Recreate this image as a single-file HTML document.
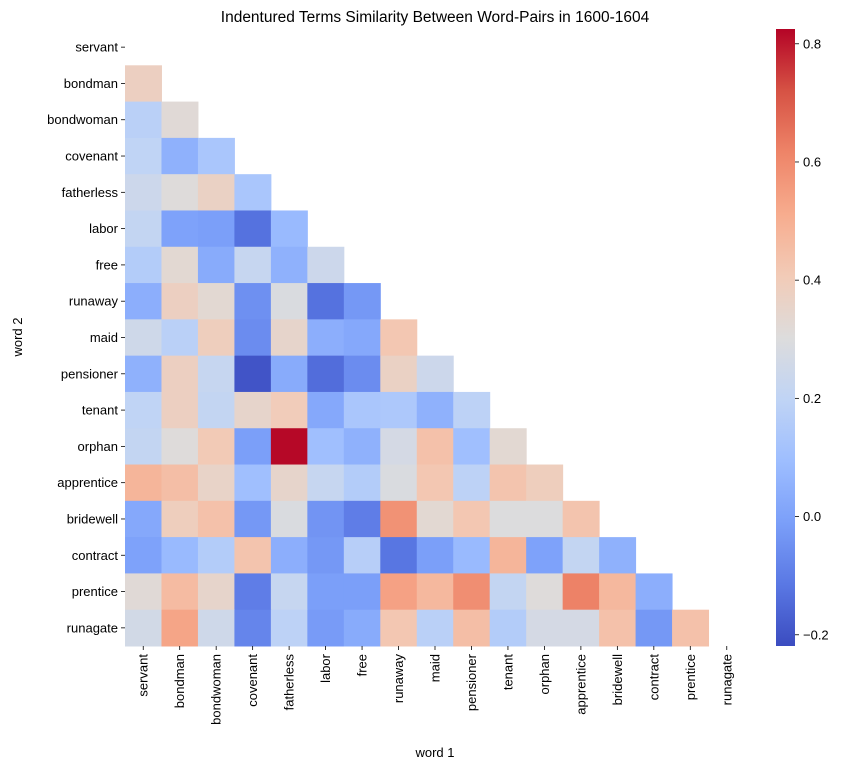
<!DOCTYPE html>
<html><head><meta charset="utf-8"><style>
body{margin:0;background:#fff;}
svg text{font-family:"Liberation Sans",sans-serif;fill:#000;}
</style></head><body>
<svg id="c" width="868" height="771" xmlns="http://www.w3.org/2000/svg"></svg>
<script>
const words=["servant","bondman","bondwoman","covenant","fatherless","labor","free","runaway","maid","pensioner","tenant","orphan","apprentice","bridewell","contract","prentice","runagate"];
const row1=[0.38];
const row2=[0.18,0.32];
const row3=[0.2,0.05,0.13];
const row4=[0.24,0.31,0.37,0.13];
const row5=[0.21,0.0,-0.01,-0.13,0.08];
const row6=[0.16,0.33,0.03,0.22,0.05,0.24];
const row7=[0.04,0.38,0.33,-0.05,0.29,-0.13,-0.03];
const row8=[0.25,0.18,0.39,-0.06,0.35,0.04,0.02,0.42];
const row9=[0.05,0.38,0.22,-0.2,0.03,-0.14,-0.06,0.37,0.24];
const row10=[0.2,0.38,0.21,0.35,0.4,0.02,0.13,0.14,0.05,0.19];
const row11=[0.21,0.31,0.41,-0.01,0.82,0.1,0.05,0.27,0.44,0.1,0.33];
const row12=[0.48,0.45,0.36,0.1,0.35,0.22,0.16,0.29,0.42,0.19,0.43,0.39];
const row13=[0.02,0.39,0.44,-0.03,0.29,-0.04,-0.1,0.58,0.33,0.42,0.3,0.3,0.43];
const row14=[0.0,0.08,0.16,0.43,0.04,-0.03,0.17,-0.12,-0.01,0.08,0.48,0.0,0.21,0.05];
const row15=[0.32,0.46,0.35,-0.1,0.22,-0.01,-0.01,0.54,0.47,0.59,0.21,0.31,0.62,0.47,0.04];
const row16=[0.26,0.53,0.25,-0.08,0.19,-0.02,0.03,0.42,0.18,0.45,0.16,0.27,0.27,0.44,-0.03,0.44];
const rows=[[],row1,row2,row3,row4,row5,row6,row7,row8,row9,row10,row11,row12,row13,row14,row15,row16];
const cbTicks=[-0.2,0.0,0.2,0.4,0.6,0.8];
const vmin=-0.219,vmax=0.825;
const L=125,R=745,T=29,B=646,n=words.length,cw=(R-L)/n,ch=(B-T)/n;
const stops=["#3b4cc0","#5a78e4","#7b9ff9","#9ebeff","#c0d4f5","#dddcdc","#f2cbb7","#f7ac8e","#ee8468","#d65244","#b40426"].map(h=>[1,3,5].map(i=>parseInt(h.substr(i,2),16)));
function cmap(v){let t=Math.max(0,Math.min(1,(v-vmin)/(vmax-vmin)))*10;let i=Math.min(9,Math.floor(t)),f=t-i;const a=stops[i],b=stops[i+1];return `rgb(${a.map((x,k)=>Math.round(x+(b[k]-x)*f)).join(",")})`;}
const X=i=>L+i*cw,Y=j=>T+j*ch;
const svg=document.getElementById('c'),NS="http://www.w3.org/2000/svg";
function el(t,a,p){const e=document.createElementNS(NS,t);for(const k in a)e.setAttribute(k,a[k]);(p||svg).appendChild(e);return e;}
rows.forEach((r,j)=>r.forEach((v,i)=>{const e=el('rect',{x:X(i),y:Y(j),width:cw+0.5,height:ch+0.5,fill:cmap(v)});

}));
words.forEach((w,i)=>{
 const cx=X(i)+cw/2;el('line',{x1:cx,x2:cx,y1:B,y2:B+4,stroke:'#000','stroke-width':0.8});
 const t=el('text',{x:0,y:0,'font-size':13,'text-anchor':'end',transform:`translate(${cx+4.5},${B+8}) rotate(-90)`});t.textContent=w;
 
 
 const cy=Y(i)+ch/2;el('line',{x1:L-4,x2:L,y1:cy,y2:cy,stroke:'#000','stroke-width':0.8});
 const u=el('text',{x:L-7,y:cy+4.5,'font-size':13,'text-anchor':'end'});u.textContent=w;
 
 
});
const CL=776,CR=795;
const g=el('defs',{});const lg=el('linearGradient',{id:'cb',x1:0,y1:1,x2:0,y2:0},g);
stops.forEach((s,k)=>el('stop',{offset:k/10,'stop-color':`rgb(${s.join(',')})`},lg));
const cb=el('rect',{x:CL,y:T,width:CR-CL,height:B-T,fill:'url(#cb)'});


const CY=v=>B-(v-vmin)/(vmax-vmin)*(B-T);
cbTicks.forEach(v=>{const y=CY(v);el('line',{x1:CR,x2:CR+4,y1:y,y2:y,stroke:'#000','stroke-width':0.8});
 const t=el('text',{x:CR+8,y:y+4.5,'font-size':13});t.textContent=v<0?'\u2212'+Math.abs(v).toFixed(1):v.toFixed(1);
 
 });
let t=el('text',{x:435,y:22,'font-size':15.5,'text-anchor':'middle'});t.textContent='Indentured Terms Similarity Between Word-Pairs in 1600-1604';


t=el('text',{x:435,y:757,'font-size':13,'text-anchor':'middle'});t.textContent='word 1';


t=el('text',{x:0,y:0,'font-size':13,'text-anchor':'middle',transform:'translate(22,337) rotate(-90)'});t.textContent='word 2';


</script>
</body></html>
